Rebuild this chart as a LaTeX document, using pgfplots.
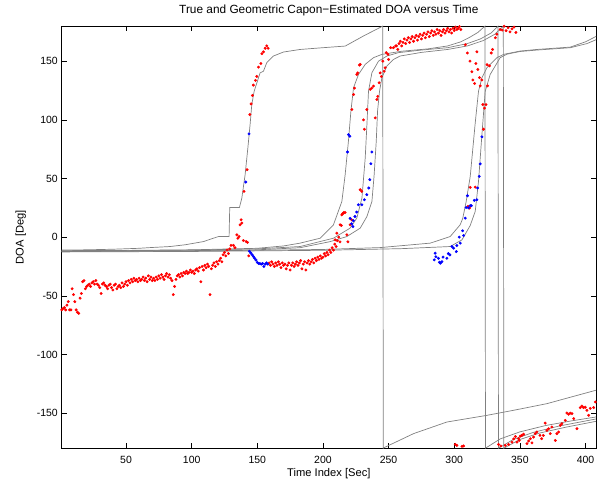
\documentclass[border=0pt]{standalone}
\usepackage{fontspec}
\setmainfont{Liberation Sans}
\usepackage{pgfplots}
\pgfplotsset{compat=1.18}
\definecolor{trueline}{rgb}{0.5,0.5,0.5}
\begin{document}
\begin{tikzpicture}
\useasboundingbox (-61.7bp,-34.7bp) rectangle (541.3bp,448.3bp);
\begin{axis}[
  at={(0,0)}, anchor=south west,
  scale only axis, width=534.3bp, height=422.3bp,
  xmin=1, xmax=408, ymin=-180, ymax=180,
  xtick={50,100,...,400}, ytick={-150,-100,...,150},
  tick align=inside, major tick length=5.5bp,
  axis line style={line width=0.6bp},
  every tick/.style={black, line width=0.6bp},
  /pgf/number format/assume math mode=true,
  tick label style={font=\fontsize{10.5}{12}\selectfont},
  xticklabel style={inner sep=0pt, anchor=base, yshift=-15bp},
  yticklabel style={inner sep=0pt, anchor=east, xshift=-3.7bp},
  xlabel={Time Index [Sec]},
  xlabel style={at={(axis description cs:0.5,0)}, anchor=base, yshift=-28bp, inner sep=0pt, font=\fontsize{11.2}{13}\selectfont},
  ylabel={DOA [Deg]},
  ylabel style={at={(axis description cs:-0.0767,0.5)}, anchor=center, inner sep=0pt, font=\fontsize{11.2}{13}\selectfont},
  title={True and Geometric Capon−Estimated DOA versus Time},
  title style={at={(axis description cs:0.5,1)}, anchor=base, yshift=7bp, inner sep=0pt, font=\fontsize{11.9}{14}\selectfont},
]
% true DOA tracks
\addplot[trueline, line width=0.7bp] coordinates {(1,-11) (20,-10.8) (40,-10.3) (60,-9.5) (70,-8.8) (83.5,-8) (95,-6.5) (108.9,-3.8) (115,-1.5) (120.4,0.5) (128.5,0.5) (129,25.3) (136.4,25.3) (138.2,33.3) (140.7,53) (142.8,76) (144.5,96) (145.8,113) (147.6,124.4) (150.1,133) (152.1,140) (154.7,141.5) (157.2,148.7) (162.3,154.4) (169.9,157.8) (182.6,160) (200,161.5) (217,162.9) (230.9,171.5) (245.5,179.9) (246.0,-179.9) (247.4,-179) (269,-167.5) (294.4,-157.6) (324.9,-151.9) (345.2,-147.6) (370.7,-141.9) (408,-130.5)};
\addplot[trueline, line width=0.7bp] coordinates {(1,-11.5) (50,-11.3) (100,-10.8) (150,-9.5) (170,-7.5) (182.6,-5.1) (197.9,-0.9) (208,10.5) (214.4,30.4) (216.9,53) (219.4,81.7) (221.3,107.4) (223.3,127.4) (227.1,138.7) (232.2,147.3) (238.5,153) (244.9,155.8) (260,158.5) (280,160.5) (295,163) (305,166.5) (312,170.5) (318,174.5) (323.4,179.9) (323.8,-179.9) (335,-172) (350,-166) (370,-160.5) (390,-156.5) (408,-153.3)};
\addplot[trueline, line width=0.7bp] coordinates {(1,-11.8) (50,-11.5) (100,-11) (150,-10) (182.6,-8) (208,-0.9) (220.7,7.7) (225.8,16.2) (229.7,33.3) (232.2,67.5) (233.5,96) (234.7,124.4) (237.3,140.2) (242.3,150) (248.7,154.4) (257.6,157.3) (275,159.5) (295,161.5) (310,165) (320,169) (328,174) (333.3,179.9) (333.7,-179.9) (345,-172.5) (360,-166.5) (380,-161) (408,-155)};
\addplot[trueline, line width=0.7bp] coordinates {(1,-12) (100,-11.5) (150,-10.8) (182.6,-9) (205.5,-3.8) (218.2,0.5) (228.4,7.7) (233.5,17.6) (237.3,30.4) (239,53) (240.6,81.7) (241.6,107.4) (243.1,124.4) (244.9,135.9) (248.7,145.8) (253.7,151.5) (258.8,154.4) (275,157.5) (295,160) (310,163) (322,167.5) (331,173) (337.4,179.9) (337.8,-179.9) (350,-172.5) (365,-167) (385,-162) (408,-157)};
\addplot[trueline, line width=0.7bp] coordinates {(1,-12.3) (100,-11.8) (200,-10.5) (243.6,-8.9) (281.7,-5.1) (296.9,0.5) (304.5,10.5) (306.5,16) (309.1,30.4) (312.2,51.8) (316,97.4) (318.5,124.4) (321.1,135.9) (324.9,144.4) (332.5,153) (337.6,155.8) (350,158.6) (363,160) (388.4,162) (400,166.5) (408.7,171.5)};
\addplot[trueline, line width=0.7bp] coordinates {(1,-12.6) (100,-12.2) (200,-11.2) (260,-9.8) (296.9,-8) (305.9,-2.3) (312.2,10) (316,22) (318.5,47.5) (321.1,87.4) (323.6,124.4) (327.4,138.7) (335,153) (340.2,156) (350.3,158.3) (363,159.5) (388.4,161.5) (401.1,165) (408.7,168.6)};
% red estimates
\addplot[only marks, mark=*, mark size=1.25bp, color=red, mark options={draw=none, fill=red}] coordinates {
(1,-62) (2,-61) (3,-60) (4,-62) (5,-58) (6,-55) (7,-62) (8,-62) (9,-44) (10,-49) (11,-55) (12,-62) (13,-64) (14,-65) (15,-52) (16,-48) (17,-38) (18,-37) (19,-44) (20,-42)
(21,-41) (22,-40) (23,-42) (24,-39) (25,-38) (26,-40) (27,-37) (28,-40) (29,-41) (30,-43) (31,-48) (32,-40) (33,-39) (34,-41) (35,-42) (36,-44) (37,-41) (38,-40) (39,-43) (40,-45)
(41,-41) (42,-40) (43,-44) (44,-42) (45,-41) (46,-43) (47,-39) (48,-42) (49,-40) (50,-38) (51,-41) (52,-37) (53,-39) (54,-36)
(55,-38) (56,-35) (57,-37) (58,-36) (59,-38) (60,-35) (61,-37) (62,-36) (63,-34) (64,-37) (65,-35) (66,-38) (67,-33) (68,-36) (69,-34) (70,-37) (71,-35) (72,-37) (73,-34) (74,-36)
(75,-33) (76,-35) (77,-32) (78,-34) (79,-36) (80,-33) (81,-31) (82,-34) (83,-32) (84,-35) (85,-37) (86,-49) (87,-42) (88,-36) (89,-33) (90,-32) (91,-34) (92,-31) (93,-33) (94,-30)
(95,-31) (96,-29) (97,-31) (98,-30) (99,-28) (100,-30) (101,-29) (102,-31) (103,-28) (104,-27) (105,-29) (106,-26) (107,-38) (108,-25) (109,-28) (110,-24) (111,-26) (112,-23) (113,-25) (114,-49)
(115,-27) (116,-24) (117,-22) (118,-25) (119,-21) (120,-23) (121,-20) (122,-18) (123,-21) (124,-15) (125,-13) (126,-16) (127,-11) (128,-14) (129,-10) (130,-7)
(131.8,-7) (133,-9) (134.4,2) (135.2,-1) (136.1,0.5) (136.9,10.5) (137.7,14.8) (138.2,12) (139.4,-2.9) (141.5,-3.8) (142.5,-4.5) (143.5,-16)
(139.9,39) (142.2,57.5) (144.3,104.5) (145.3,113.6) (146.3,120.8) (147,129.6) (148.6,133.6) (149.6,137) (150.9,145) (152.7,148) (153.5,156.4) (154.7,158) (156,161) (157.2,163) (158.2,161)
(159,-22) (160,-24) (161,-21) (162,-23) (163,-25) (164,-22) (165,-24) (166,-21) (167,-23) (168,-26) (169,-22) (170,-24) (171,-23) (172,-27) (173,-24) (174,-22) (175,-28) (176,-24) (177,-22) (178,-25)
(179,-23) (180,-21) (181,-24) (182,-22) (183,-20) (184,-27) (185,-23) (186,-21) (187,-28) (188,-22) (189,-20) (190,-23) (191,-21) (192,-19) (193,-22) (194,-18) (195,-20) (196,-17) (197,-19) (198,-16)
(199,-18) (200,-17) (201,-14) (202,-16) (203,-13) (204,-15) (205,-11) (206,-13) (207,-9) (208,-11) (209,-6) (210,-8) (211,-3) (212,0) (213,-4) (214,10) (215,20) (216,21)
(209.3,-2.3) (210.6,3.4) (213.1,10.5) (214.4,19) (215.6,20.5) (216.9,21) (218.2,2) (219,-4) (220.7,10.5) (221.9,14.8) (228.4,40.4) (229.6,39)
(222,108.8) (223.3,121.6) (224,127) (225.8,138.7) (226.5,140) (227.8,146.7) (228.4,147.3)
(230.9,100) (231.6,92) (233.4,108.8) (236,126) (237.2,127) (238.5,128.7) (239.8,101.7) (241.1,117.4) (241.8,120) (242.8,131.6) (243.6,140) (244.5,137) (245.6,150) (246.6,141.5) (247.4,144.4) (248.2,157.3) (249.5,155.8) (250,151.5) (251.6,161.5) (253.7,161.5) (255.4,163)
(256,163) (257,160) (258,165) (259,167) (260,163) (261,166) (262,169) (263,165) (264,168) (265,170) (266,166) (267,169) (268,171) (269,167) (270,170) (271,172) (272,168) (273,171) (274,173) (275,169)
(276,172) (277,174) (278,170) (279,173) (280,175) (281,171) (282,174) (283,176) (284,172) (285,175) (286,173) (287,177) (288,174) (289,176) (290,172) (291,175) (292,177) (293,174) (294,176) (295,178)
(296,175) (297,177) (298,174) (299,178) (300,176) (301,179) (302,177) (303,178) (304,179.5) (305,177)
(300.8,-176.7) (302,-177.5) (305.9,-178.4) (307.1,-178)
(308.5,164) (310,157) (312,150) (313.5,141) (314.2,134) (315.5,131) (316.5,148) (317.3,158) (318,143) (319.2,136) (319.8,129) (321,134) (321.8,113) (322.3,92) (323,110) (324.2,113) (325,147) (325.4,129) (326.9,146) (328.2,157) (329.2,160) (331.3,170) (332.5,173)
(335,177) (336.5,176.5) (338,179.8) (339.5,176) (341,178.5) (342.5,175) (344,177.5) (345.5,179) (347,174.5)
(310.5,26.2) (311.7,24.8) (312.2,42.4) (316,42.7)
(333.8,-176.7) (335.5,-178) (338.9,-177.5) (341.4,-176.7) (344,-174.7) (345.3,-172) (346.6,-170) (347.8,-174.7) (349,-171.8) (349.5,-173.3) (350.3,-169.6) (351.5,-169) (352.8,-168) (355.4,-176) (356.7,-173.8) (358,-171.8) (359.2,-175.4) (360.4,-170.4) (361.7,-167.5) (363,-166.1)
(365.3,-169) (366.6,-171.8) (367.9,-169) (369.3,-158.5) (370.6,-164.7) (371.9,-163.3) (373.2,-167.5) (374.4,-161.8) (377,-173.3) (378.2,-167.5) (379.5,-166.1) (380.8,-160.4) (382,-159) (384.6,-156.2) (385.8,-149.9) (387.1,-151) (388.4,-150) (389.7,-150.5) (391,-154.7) (393.5,-163.3)
(396,-145.3) (397.3,-144) (398.5,-145.3) (399.8,-145) (401.1,-147.6) (402.4,-151.9) (403.6,-146) (406.2,-145.3) (407.5,-140.5)
};
% blue estimates
\addplot[only marks, mark=*, mark size=1.25bp, color=blue, mark options={draw=none, fill=blue}] coordinates {
(141.2,47) (143.7,88)
(144,-12) (145,-13.5) (146,-15) (147,-16.5) (148,-18) (149,-19.5) (150,-21.5) (151,-22.5) (152,-22.5) (153,-23) (154,-22.5) (155,-25) (156,-23) (157,-22) (158,-23)
(218.7,72.6) (219.4,87.4) (220.5,86) (221.9,11.4) (222.8,9) (223.1,14) (224.4,17.6) (225.7,21.4) (227,27.6) (229.6,27.6) (231.6,31.9) (233.4,36.2) (234.9,41.9) (235.7,49) (236.5,62.6) (237.3,72.6) (220.7,16)
(284.8,-19.4) (285.5,-13.7) (286,-16.7) (288,-18) (288.8,-21.4) (289.4,-22.2) (290.6,-20.9) (291.5,-17) (294.4,-18) (295.5,-14) (296.7,-15.1) (298.3,-8) (299.5,-9.4) (301.6,-12.3) (302,-7.2) (303.8,0) (304.6,-5.1) (306.4,5.4) (307.1,1.4) (308.4,16.2)
(309.1,25.3) (310.1,35.3) (310.9,25) (312.2,26.8) (313,26.8) (315.3,31.4) (317.3,31.9) (317.8,41.9) (319,51.8) (319.8,62.4) (321.1,85.5)
};
\end{axis}
\end{tikzpicture}
\end{document}
